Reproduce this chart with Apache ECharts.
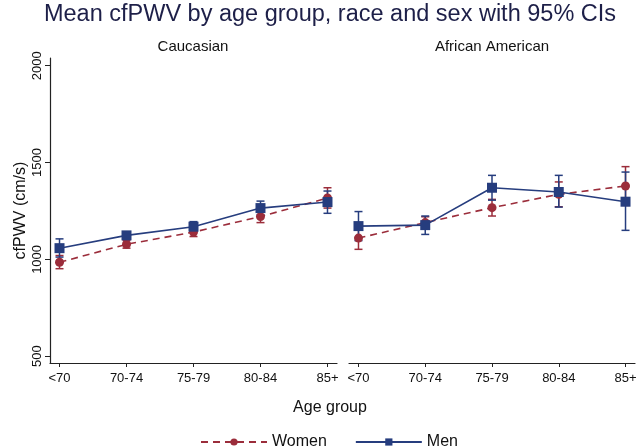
<!DOCTYPE html>
<html>
<head>
<meta charset="utf-8">
<script src="https://cdn.jsdelivr.net/npm/echarts@6/dist/echarts.min.js"></script>
<style>html,body{margin:0;padding:0;background:#fff;}#chart{width:640px;height:447px;}</style>
</head>
<body>
<div id="chart"></div>
<script>
var categories = ['<70', '70-74', '75-79', '80-84', '85+'];
var yTicks = [500, 1000, 1500, 2000];
var panels = ['Caucasian', 'African American'];

var cauWomen   = [985, 1078, 1141, 1221, 1317];
var cauWomenLo = [952, 1058, 1118, 1190, 1265];
var cauWomenHi = [1020, 1098, 1162, 1252, 1370];
var cauMen     = [1058, 1124, 1169, 1265, 1296];
var cauMenLo   = [1012, 1105, 1145, 1230, 1238];
var cauMenHi   = [1106, 1140, 1195, 1301, 1353];

var aaWomen    = [1110, 1190, 1267, 1336, 1379];
var aaWomenLo  = [1052, 1160, 1224, 1272, 1279];
var aaWomenHi  = [1170, 1220, 1310, 1400, 1479];
var aaMen      = [1172, 1177, 1370, 1348, 1298];
var aaMenLo    = [1097, 1129, 1306, 1270, 1150];
var aaMenHi    = [1247, 1224, 1434, 1434, 1451];

var WOMEN_C = '#9b2d3b';
var MEN_C = '#263d7e';
var FONT = '"Liberation Sans", Arial, sans-serif';

function pts(vals) { return vals.map(function (v, i) { return [i, v]; }); }
function ci(lo, hi) { return lo.map(function (v, i) { return [i, lo[i], hi[i]]; }); }

function errSeries(idx, data, color) {
  return {
    type: 'custom', xAxisIndex: idx, yAxisIndex: idx, z: 3,
    silent: true,
    data: data,
    renderItem: function (params, api) {
      var x = api.value(0);
      var lo = api.coord([x, api.value(1)]);
      var hi = api.coord([x, api.value(2)]);
      var w = 4;
      var st = { stroke: color, lineWidth: 1.5 };
      return {
        type: 'group',
        children: [
          { type: 'line', shape: { x1: lo[0], y1: lo[1], x2: hi[0], y2: hi[1] }, style: st },
          { type: 'line', shape: { x1: lo[0] - w, y1: lo[1], x2: lo[0] + w, y2: lo[1] }, style: st },
          { type: 'line', shape: { x1: hi[0] - w, y1: hi[1], x2: hi[0] + w, y2: hi[1] }, style: st }
        ]
      };
    }
  };
}

function lineSeries(idx, name, vals, color, dashed, symbol, size) {
  return {
    type: 'line', name: name, xAxisIndex: idx, yAxisIndex: idx, z: 4,
    data: pts(vals),
    symbol: symbol, symbolSize: size,
    itemStyle: { color: color },
    lineStyle: { color: color, width: 1.6, type: dashed ? [7, 5] : 'solid' },
    animation: false
  };
}

function xAxis(idx) {
  return {
    type: 'value', gridIndex: idx, min: -0.142, max: 4.142,
    axisLine: { show: true, onZero: false, lineStyle: { color: '#222', width: 1.2 } },
    axisTick: { show: true, customValues: [0, 1, 2, 3, 4], length: 4, lineStyle: { color: '#222' } },
    axisLabel: {
      customValues: [0, 1, 2, 3, 4], margin: 9, color: '#111', fontSize: 13, fontFamily: FONT,
      formatter: function (v) { return categories[Math.round(v)]; }
    },
    splitLine: { show: false }
  };
}

function yAxis(idx) {
  var show = idx === 0;
  return {
    type: 'value', gridIndex: idx, min: 465, max: 2040,
    name: show ? 'cfPWV (cm/s)' : '', nameLocation: 'middle', nameGap: 21,
    nameMoveOverlap: false,
    nameTextStyle: { fontSize: 16, color: '#111', fontFamily: FONT },
    axisLine: { show: show, onZero: false, lineStyle: { color: '#222', width: 1.2 } },
    axisTick: { show: show, customValues: yTicks, length: 5, lineStyle: { color: '#222' } },
    axisLabel: {
      show: show, customValues: yTicks, rotate: 90, margin: 6, color: '#111', fontSize: 13, fontFamily: FONT,
      formatter: function (v) { return String(v); }
    },
    splitLine: { show: false }
  };
}

var chart = echarts.init(document.getElementById('chart'), null, { renderer: 'canvas' });
chart.setOption({
  backgroundColor: '#ffffff',
  animation: false,
  textStyle: { fontFamily: FONT },
  grid: [
    { left: 50, right: 303, top: 58, bottom: 84, containLabel: false, outerBoundsMode: 'none' },
    { left: 349, right: 5, top: 58, bottom: 84, containLabel: false, outerBoundsMode: 'none' }
  ],
  xAxis: [xAxis(0), xAxis(1)],
  yAxis: [yAxis(0), yAxis(1)],
  legend: {
    data: ['Women', 'Men'],
    left: 195, top: 429,
    itemWidth: 66, itemHeight: 9, itemGap: 28,
    textStyle: { fontSize: 16, color: '#111', fontFamily: FONT }
  },
  graphic: [
    { type: 'text', x: 330, y: 15, style: { text: 'Mean cfPWV by age group, race and sex with 95% CIs', font: '23.5px ' + FONT, fill: '#1d1f48', align: 'center', verticalAlign: 'middle', textAlign: 'center', textVerticalAlign: 'middle' } },
    { type: 'text', x: 193, y: 47, style: { text: panels[0], font: '15px ' + FONT, fill: '#111', align: 'center', verticalAlign: 'middle', textAlign: 'center', textVerticalAlign: 'middle' } },
    { type: 'text', x: 492, y: 47, style: { text: panels[1], font: '15px ' + FONT, fill: '#111', align: 'center', verticalAlign: 'middle', textAlign: 'center', textVerticalAlign: 'middle' } },
    { type: 'text', x: 330, y: 408, style: { text: 'Age group', font: '16px ' + FONT, fill: '#111', align: 'center', verticalAlign: 'middle', textAlign: 'center', textVerticalAlign: 'middle' } }
  ],
  series: [
    errSeries(0, ci(cauWomenLo, cauWomenHi), WOMEN_C),
    errSeries(0, ci(cauMenLo, cauMenHi), MEN_C),
    lineSeries(0, 'Women', cauWomen, WOMEN_C, true, 'circle', 9),
    lineSeries(0, 'Men', cauMen, MEN_C, false, 'rect', 10),
    errSeries(1, ci(aaWomenLo, aaWomenHi), WOMEN_C),
    errSeries(1, ci(aaMenLo, aaMenHi), MEN_C),
    lineSeries(1, 'Women', aaWomen, WOMEN_C, true, 'circle', 9),
    lineSeries(1, 'Men', aaMen, MEN_C, false, 'rect', 10)
  ]
});
</script>
</body>
</html>
